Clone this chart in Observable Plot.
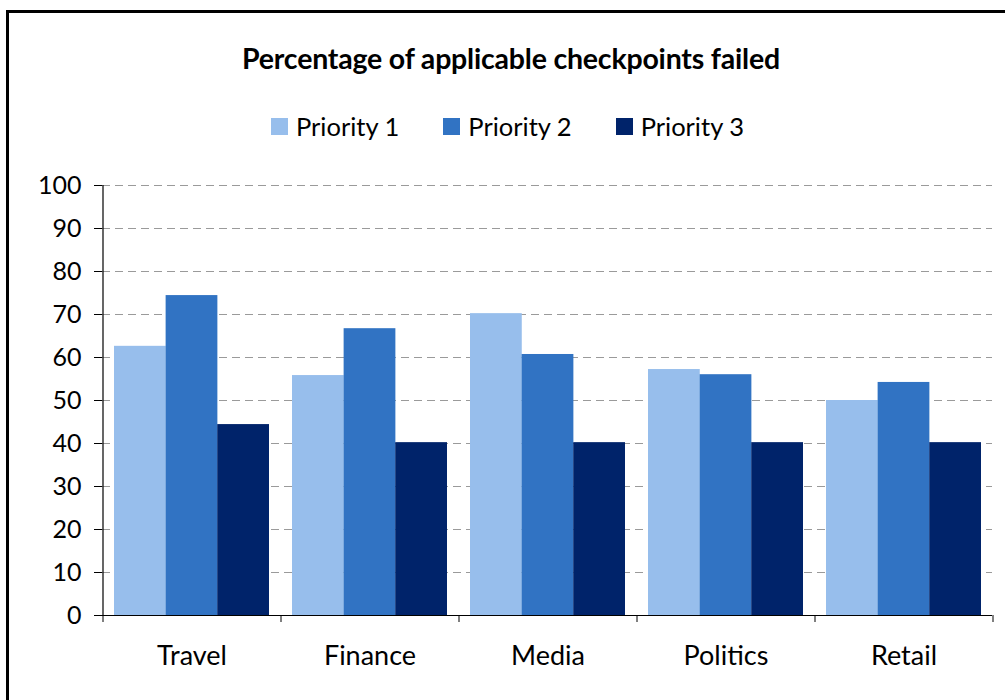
<!DOCTYPE html>
<html>
<head>
<meta charset="utf-8">
<script src="https://cdn.jsdelivr.net/npm/d3@7"></script>
<script src="https://cdn.jsdelivr.net/npm/@observablehq/plot@0.6"></script>
<style>
  html, body { margin: 0; padding: 0; background: #fff; overflow: hidden; }
  body { width: 1005px; height: 700px; position: relative; font-family: Lato, "Open Sans", sans-serif; }
  #border { position: absolute; left: 6px; top: 10px; width: 1100px; height: 800px;
            border-left: 3px solid #000; border-top: 3px solid #000; box-sizing: border-box; z-index: 2; pointer-events: none; }
  #title { position: absolute; left: 0; width: 1022px; top: 38px; height: 40px; line-height: 40px;
           text-align: center; font-weight: 700; font-size: 28.5px; letter-spacing: -0.2px; color: #000; }
  #legend { position: absolute; left: 0; width: 1015px; top: 106px; height: 40px;
            display: flex; justify-content: center; align-items: center; gap: 44px; font-size: 25.5px; color: #000; }
  .item { display: flex; align-items: center; gap: 8px; }
  .sw { width: 17px; height: 17px; display: inline-block; }
  #chart { position: absolute; left: 0; top: 150px; }
</style>
</head>
<body>
<div id="border"></div>
<div id="title">Percentage of applicable checkpoints failed</div>
<div id="legend"></div>
<div id="chart"></div>
<script>
const categories = ["Travel", "Finance", "Media", "Politics", "Retail"];
const seriesNames = ["Priority 1", "Priority 2", "Priority 3"];
const priority1 = [62.6, 55.8, 70.2, 57.2, 50.0];
const priority2 = [74.4, 66.7, 60.7, 56.0, 54.2];
const priority3 = [44.4, 40.2, 40.2, 40.2, 40.2];
const colors = ["#97BEEC", "#3173C3", "#00236A"];
const yTicks = [0, 10, 20, 30, 40, 50, 60, 70, 80, 90, 100];

const seriesValues = [priority1, priority2, priority3];
const data = [];
seriesNames.forEach((s, si) => categories.forEach((c, ci) => data.push({category: c, series: s, value: seriesValues[si][ci]})));

// legend
const legend = document.getElementById("legend");
seriesNames.forEach((s, i) => {
  const it = document.createElement("div");
  it.className = "item";
  it.innerHTML = `<span class="sw" style="background:${colors[i]}"></span><span>${s}</span>`;
  legend.appendChild(it);
});

const width = 1005, height = 550;
const marginLeft = 102, marginRight = 13, marginTop = 35, marginBottom = 85;
const paddingInner = 0.13, paddingOuter = 0.065;
const plotW = width - marginLeft - marginRight;
const step = plotW / (categories.length - paddingInner + 2 * paddingOuter);
const bw = step * (1 - paddingInner);
const third = bw / 3;

const barMarks = seriesNames.map((s, i) =>
  Plot.barY(data.filter(d => d.series === s), {
    x: "category", y: "value", fill: colors[i],
    insetLeft: i * third, insetRight: (2 - i) * third
  })
);

const chart = Plot.plot({
  width, height, marginLeft, marginRight, marginTop, marginBottom,
  style: {fontFamily: "Lato, 'Open Sans', sans-serif", fontSize: "25px", color: "#000", background: "transparent"},
  x: {domain: categories, paddingInner, paddingOuter, label: null, axis: null},
  y: {domain: [0, 100], label: null, axis: null},
  marks: [
    Plot.ruleY(yTicks.filter(t => t > 0), {stroke: "#9a9a9a", strokeDasharray: "8,5", strokeWidth: 1}),
    ...barMarks,
    Plot.ruleY([0], {stroke: "#000", strokeWidth: 1.2}),
    Plot.ruleX([categories[0]], {x: d => d, dx: -step / 2, y1: 0, y2: 100, stroke: "#000", strokeWidth: 1.2}),
    Plot.axisY({ticks: yTicks, tickSize: 8, tickPadding: 13, fontSize: 25, label: null, stroke: "#000"}),
    Plot.axisX({ticks: categories, tickSize: 0, tickPadding: 30, fontSize: 27, label: null}),
    Plot.axisX({ticks: categories, tickSize: 7, tickFormat: () => "", dx: -step / 2, label: null, stroke: "#000"}),
    Plot.axisX({ticks: [categories[categories.length - 1]], tickSize: 7, tickFormat: () => "", dx: step / 2, label: null, stroke: "#000"})
  ]
});
document.getElementById("chart").appendChild(chart);
</script>
</body>
</html>
